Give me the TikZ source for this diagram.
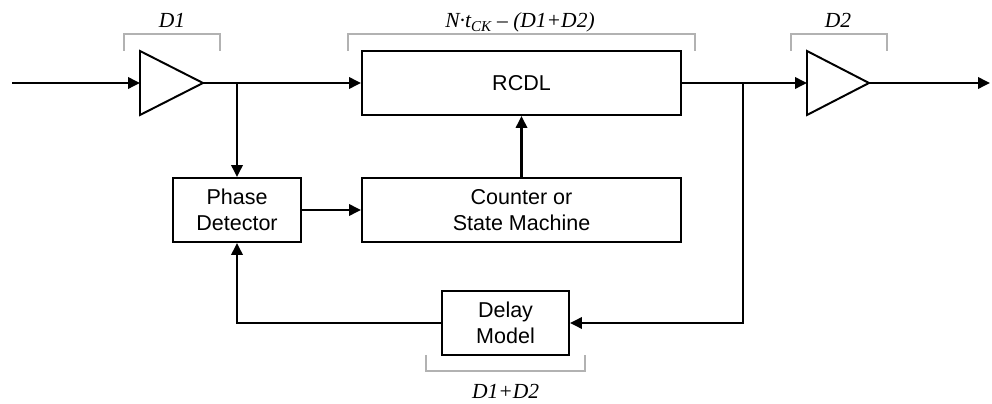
\documentclass[tikz,border=0pt]{standalone}
\usepackage{fontspec}
\setmainfont{Liberation Serif}
\setsansfont{Liberation Sans}
\usetikzlibrary{arrows.meta, positioning}

\begin{document}
\begin{tikzpicture}[
    blk/.style={draw, line width=1.4pt, align=center, inner sep=0pt,
                font=\sffamily\fontsize{15.3}{18.5}\selectfont},
    buf/.style={draw, line width=1.4pt},
    sig/.style={line width=1.8pt},
    brk/.style={draw=gray!60, line width=0.8pt},
    lbl/.style={font=\itshape\fontsize{15.3}{18.5}\selectfont, anchor=base},
    >={Triangle[length=8.5pt, width=8pt]}
  ]
  \useasboundingbox (0,0) rectangle (24.8,10.075);

  % Blocks
  \node[blk, minimum width=7.975cm, minimum height=1.6cm] (rcdl) at (13.0375, 8.0) {RCDL};
  \node[blk, minimum width=7.975cm, minimum height=1.6cm] (ctr) at (13.0375, 4.825)
    {Counter or\\State Machine};
  \node[blk, minimum width=3.2cm, minimum height=1.6cm] (pd) at (5.925, 4.825)
    {Phase\\Detector};
  \node[blk, minimum width=3.175cm, minimum height=1.6cm] (dm) at (12.6375, 2.0)
    {Delay\\Model};

  % Buffers
  \coordinate (buf1in) at (3.5, 8.0);
  \coordinate (buf1out) at (5.075, 8.0);
  \draw[buf] (buf1in) ++(0,0.8) -- ++(0,-1.6) -- (buf1out) -- cycle;
  \coordinate (buf2in) at (20.175, 8.0);
  \coordinate (buf2out) at (21.725, 8.0);
  \draw[buf] (buf2in) ++(0,0.8) -- ++(0,-1.6) -- (buf2out) -- cycle;

  % Signal paths
  \coordinate (in) at (0.3, 8.0);
  \coordinate (out) at (24.75, 8.0);
  \coordinate (tap1) at (5.925, 8.0);
  \coordinate (tap2) at (18.575, 8.0);
  \draw[sig, ->] (in) -- (buf1in);
  \draw[sig, ->] (buf1out) -- (rcdl.west);
  \draw[sig, ->] (tap1) -- (pd.north);
  \draw[sig, ->] (pd.east) -- (ctr.west);
  \draw[sig, ->] (ctr.north) -- (rcdl.south);
  \draw[sig, ->] (rcdl.east) -- (buf2in);
  \draw[sig, ->] (buf2out) -- (out);
  \draw[sig, ->] (tap2) |- (dm.east);
  \draw[sig, ->] (dm.west) -| (pd.south);

  % Delay brackets
  \draw[brk] (3.1, 8.8) |- (5.5, 9.225) -- (5.5, 8.8);
  \draw[brk] (8.7, 8.8) |- (17.375, 9.225) -- (17.375, 8.8);
  \draw[brk] (19.775, 8.8) |- (22.175, 9.225) -- (22.175, 8.8);
  \draw[brk] (10.65, 1.2) |- (14.625, 0.8) -- (14.625, 1.2);

  \node[lbl] (d1lbl) at (4.3, 9.375) {D1};
  \node[lbl] (rcdllbl) at (13.0, 9.375)
    {N\textperiodcentered t\textsubscript{CK} -- (D1+D2)};
  \node[lbl] (d2lbl) at (20.95, 9.375) {D2};
  \node[lbl] (dmlbl) at (12.64, 0.1) {D1+D2};
\end{tikzpicture}
\end{document}
